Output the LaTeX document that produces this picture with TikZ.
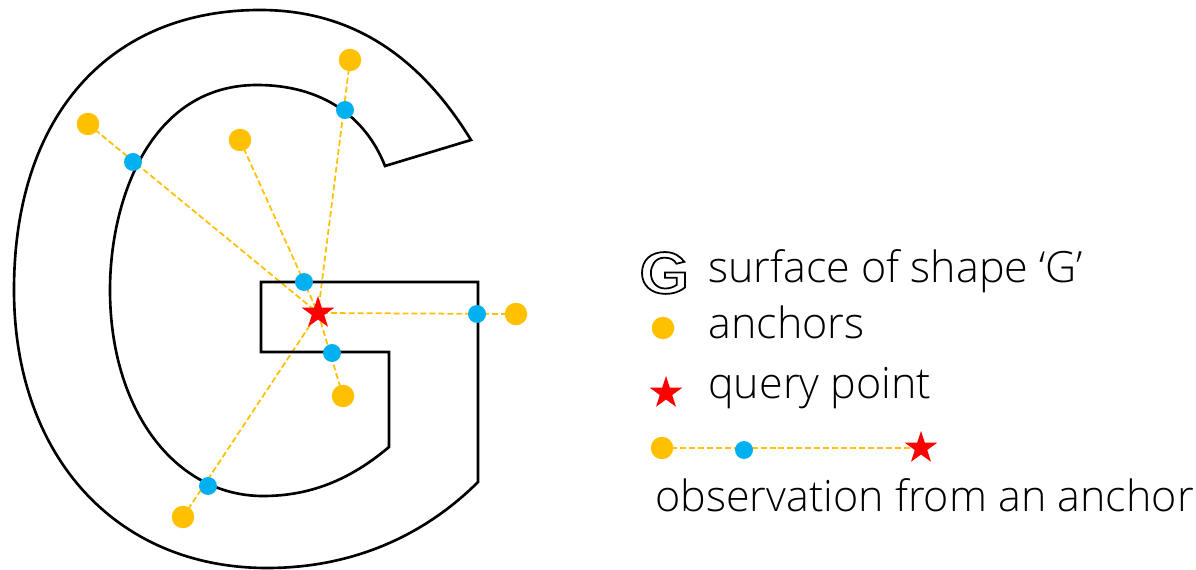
\documentclass[tikz,border=0pt]{standalone}
\usepackage{fontspec}
\setmainfont{Open Sans}[UprightFont=* Light]
\usetikzlibrary{shapes.geometric,backgrounds}

\definecolor{ancla}{HTML}{FFC000}
\definecolor{superficie}{HTML}{00B0F0}
\definecolor{consulta}{HTML}{FF0000}

\tikzset{
    contorno/.style={line width=1.5pt, line join=miter},
    rayo/.style={ancla, line width=1pt, dash pattern=on 3.4pt off 1.7pt},
    anclapt/.style={circle, fill=ancla, inner sep=0pt, minimum size=0.45cm},
    supfpt/.style={circle, fill=superficie, inner sep=0pt, minimum size=0.36cm},
    consultapt/.style={star, star points=5, star point ratio=2.6,
            fill=consulta, inner sep=0pt, minimum size=0.68cm},
    leyenda/.style={anchor=base west, inner sep=0pt,
            font=\fontsize{24.5}{29}\selectfont},
}

\begin{document}
\begin{tikzpicture}[x=0.02cm, y=-0.02cm]

        \useasboundingbox (0,0) rectangle (1196,570);

        % ===============================
        % Contorno de la letra G (pixeles)
        % ===============================
        \providecommand{\ContornoG}{%
            (471,140) .. controls (425,65) and (360,10) .. (260,10)
            .. controls (110,10) and (14,115) .. (14,290)
            .. controls (14,455) and (115,568) .. (267,568)
            .. controls (360,568) and (430,530) .. (478,482)
            -- (478,282) -- (261,282) -- (261,352) -- (389,352) -- (389,447)
            .. controls (350,480) and (310,496) .. (263,496)
            .. controls (175,496) and (110,410) .. (110,290)
            .. controls (110,200) and (150,85) .. (257,85)
            .. controls (320,85) and (365,115) .. (385,166)
            -- cycle%
        }

        \draw[contorno] \ContornoG;

        % ===============================
        % Anclas, puntos de superficie y punto de consulta
        % ===============================
        \node[consultapt] (q) at (318,313) {};

        \foreach \i/\x/\y in {1/88/124, 2/240/140, 3/350/60,
                4/516/314, 5/343/396, 6/183/517}{
                \node[anclapt] (a\i) at (\x,\y) {};
            }

        \foreach \i/\x/\y in {1/133/162, 2/304/282, 3/345/110,
                4/477/314, 5/332/353, 6/208/486}{
                \node[supfpt] (s\i) at (\x,\y) {};
            }

        % Rayos ancla -> consulta
        \begin{scope}[on background layer]
            \foreach \i in {1,...,6}{
                    \draw[rayo] (a\i.center) -- (q.center);
                }
        \end{scope}

        % ===============================
        % Leyenda
        % ===============================
        \begin{scope}[shift={(640.7,251.3)}, xscale=0.0927, yscale=0.075]
            \draw[line width=1pt] \ContornoG;
        \end{scope}
        \node[leyenda] (tG) at (708,283) {surface of shape ‘G’};

        \node[anclapt] (mA) at (663,328) {};
        \node[leyenda] (tA) at (708,339) {anchors};

        \node[consultapt] (mQ) at (666,393) {};
        \node[leyenda] (tQ) at (708,399) {query point};

        \node[anclapt] (la) at (662,448) {};
        \node[supfpt] (ls) at (744,450) {};
        \node[consultapt] (lq) at (921,448) {};
        \begin{scope}[on background layer]
            \draw[rayo] (la.center) -- (lq.center);
        \end{scope}
        \node[leyenda] (tO) at (655,511) {observation from an anchor};

    \end{tikzpicture}
\end{document}
